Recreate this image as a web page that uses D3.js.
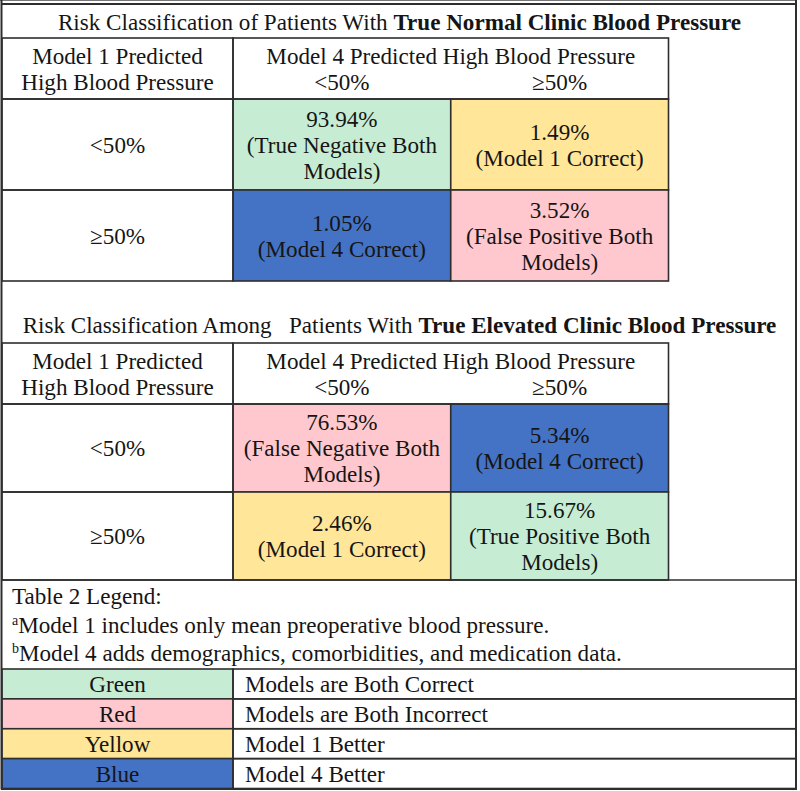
<!DOCTYPE html>
<html><head><meta charset="utf-8">
<script src="https://cdn.jsdelivr.net/npm/d3@7"></script>
<style>
body{margin:0;background:#fff}
svg{display:block}
text{font-family:"Liberation Serif","Times New Roman",serif;fill:#151515;white-space:pre}
</style>
</head><body><script>
// ---------- data ----------
const rowCategories = ["<50%", "≥50%"];
const colCategories = ["<50%", "≥50%"];
const rowHeader = ["Model 1 Predicted", "High Blood Pressure"];
const colHeader = "Model 4 Predicted High Blood Pressure";

const normalTitle = ["Risk Classification of Patients With ", "True Normal Clinic Blood Pressure"];
const normalValues = [93.94, 1.49, 1.05, 3.52];            // row-major: [<50%,<50%], [<50%,≥50%], [≥50%,<50%], [≥50%,≥50%]
const normalNotes = [["(True Negative Both", "Models)"], ["(Model 1 Correct)"], ["(Model 4 Correct)"], ["(False Positive Both", "Models)"]];
const normalColours = ["Green", "Yellow", "Blue", "Red"];

const elevatedTitle = ["Risk Classification Among   Patients With ", "True Elevated Clinic Blood Pressure"];
const elevatedValues = [76.53, 5.34, 2.46, 15.67];
const elevatedNotes = [["(False Negative Both", "Models)"], ["(Model 4 Correct)"], ["(Model 1 Correct)"], ["(True Positive Both", "Models)"]];
const elevatedColours = ["Red", "Blue", "Yellow", "Green"];

const legendHeading = "Table 2 Legend:";
const footnoteMarks = ["a", "b"];
const footnotes = ["Model 1 includes only mean preoperative blood pressure.", "Model 4 adds demographics, comorbidities, and medication data."];
const legendNames = ["Green", "Red", "Yellow", "Blue"];
const legendMeanings = ["Models are Both Correct", "Models are Both Incorrect", "Model 1 Better", "Model 4 Better"];
const legendFills = ["#c6edd3", "#ffc8ce", "#ffe699", "#4472c4"];

// ---------- layout ----------
const W = 800, H = 791;
const FS = 23.1, LH = 26, BASE = 8;
const lineCol = "#2e2e2e";
const fill = d3.scaleOrdinal(legendNames, legendFills);

const svg = d3.select("body").append("svg").attr("width", W).attr("height", H);

const labelX = [2, 233];
const x = d3.scaleBand(colCategories, [233, 668.5]);
const legendRow = d3.scaleBand(legendNames, [669, 788.5]);

function multiline(g, lines, cx, cy, opts = {}) {
  const n = lines.length;
  const t = g.append("text").attr("text-anchor", opts.anchor || "middle").style("font-size", FS + "px");
  lines.forEach((l, i) => {
    t.append("tspan").attr("x", cx).attr("y", cy + BASE + (i - (n - 1) / 2) * LH).text(l);
  });
  return t;
}

function drawTable(top, titleBaseline, rows, values, notes, colours, title) {
  const g = svg.append("g");
  const headerBottom = rows[0];
  const y = d3.scaleBand(rowCategories, rows);

  // title
  const tt = g.append("text").attr("x", 399.5).attr("y", titleBaseline).attr("text-anchor", "middle").style("font-size", FS + "px");
  tt.append("tspan").text(title[0]);
  tt.append("tspan").style("font-weight", "bold").text(title[1]);

  // cells
  const cells = values.map((v, i) => ({
    v, note: notes[i], colour: colours[i],
    r: rowCategories[Math.floor(i / 2)], c: colCategories[i % 2]
  }));
  g.selectAll("rect.cell").data(cells).join("rect").attr("class", "cell")
    .attr("x", d => x(d.c)).attr("y", d => y(d.r))
    .attr("width", x.bandwidth()).attr("height", y.bandwidth())
    .attr("fill", d => fill(d.colour)).attr("stroke", lineCol).attr("stroke-width", 1.6);
  cells.forEach(d => {
    multiline(g, [d3.format(".2f")(d.v) + "%"].concat(d.note), x(d.c) + x.bandwidth() / 2, y(d.r) + y.bandwidth() / 2);
  });

  // row label cells
  rowCategories.forEach(r => {
    g.append("rect").attr("x", labelX[0]).attr("y", y(r)).attr("width", labelX[1] - labelX[0]).attr("height", y.bandwidth())
      .attr("fill", "none").attr("stroke", lineCol).attr("stroke-width", 1.6);
    multiline(g, [r], (labelX[0] + labelX[1]) / 2, y(r) + y.bandwidth() / 2);
  });

  // header
  g.append("rect").attr("x", labelX[0]).attr("y", top).attr("width", labelX[1] - labelX[0]).attr("height", headerBottom - top)
    .attr("fill", "none").attr("stroke", lineCol).attr("stroke-width", 1.6);
  g.append("rect").attr("x", x.range()[0]).attr("y", top).attr("width", x.range()[1] - x.range()[0]).attr("height", headerBottom - top)
    .attr("fill", "none").attr("stroke", lineCol).attr("stroke-width", 1.6);
  multiline(g, rowHeader, (labelX[0] + labelX[1]) / 2, (top + headerBottom) / 2);
  const hc = (top + headerBottom) / 2;
  g.append("text").attr("x", (x.range()[0] + x.range()[1]) / 2).attr("y", hc + BASE - LH / 2)
    .attr("text-anchor", "middle").style("font-size", FS + "px").text(colHeader);
  colCategories.forEach(c => {
    g.append("text").attr("x", x(c) + x.bandwidth() / 2).attr("y", hc + BASE + LH / 2)
      .attr("text-anchor", "middle").style("font-size", FS + "px").text(c);
  });
}

drawTable(38, 30, [99, 281], normalValues, normalNotes, normalColours, normalTitle);
drawTable(343, 333, [404, 580], elevatedValues, elevatedNotes, elevatedColours, elevatedTitle);

// legend text
svg.append("text").attr("x", 12).attr("y", 604).style("font-size", FS + "px").text(legendHeading);
footnotes.forEach((f, i) => {
  const t = svg.append("text").attr("x", 12).attr("y", 633 + i * 27.5).style("font-size", FS + "px");
  t.append("tspan").style("font-size", "14px").attr("dy", -8).text(footnoteMarks[i]);
  t.append("tspan").attr("dy", 8).text(footnotes[i]);
});

// legend table
const lg = svg.append("g");
lg.selectAll("rect.sw").data(legendNames).join("rect").attr("class", "sw")
  .attr("x", labelX[0]).attr("y", d => legendRow(d)).attr("width", labelX[1] - labelX[0]).attr("height", legendRow.bandwidth())
  .attr("fill", d => fill(d)).attr("stroke", lineCol).attr("stroke-width", 1.6);
lg.selectAll("rect.mn").data(legendNames).join("rect").attr("class", "mn")
  .attr("x", labelX[1]).attr("y", d => legendRow(d)).attr("width", 796 - labelX[1]).attr("height", legendRow.bandwidth())
  .attr("fill", "none").attr("stroke", lineCol).attr("stroke-width", 1.6);
lg.selectAll("text.nm").data(legendNames).join("text").attr("class", "nm")
  .attr("x", (labelX[0] + labelX[1]) / 2).attr("y", d => legendRow(d) + legendRow.bandwidth() / 2 + BASE)
  .attr("text-anchor", "middle").style("font-size", FS + "px").text(d => d);
lg.selectAll("text.mg").data(legendMeanings).join("text").attr("class", "mg")
  .attr("x", 245).attr("y", (d, i) => legendRow(legendNames[i]) + legendRow.bandwidth() / 2 + BASE)
  .style("font-size", FS + "px").text(d => d);

// outer frame and separators
const frame = svg.append("g").attr("stroke", lineCol).attr("fill", "none");
frame.append("line").attr("x1", 0).attr("x2", 797).attr("y1", 0.5).attr("y2", 0.5).attr("stroke", "#777").attr("stroke-width", 1);
frame.append("line").attr("x1", 1).attr("x2", 797).attr("y1", 4).attr("y2", 4).attr("stroke-width", 2);
frame.append("line").attr("x1", 1.5).attr("x2", 1.5).attr("y1", 0).attr("y2", 789.5).attr("stroke-width", 2);
frame.append("line").attr("x1", 796).attr("x2", 796).attr("y1", 0).attr("y2", 789.5).attr("stroke-width", 2);
frame.append("line").attr("x1", 1).attr("x2", 797).attr("y1", 789).attr("y2", 789).attr("stroke-width", 2);
frame.append("line").attr("x1", 2).attr("x2", 796).attr("y1", 580).attr("y2", 580).attr("stroke-width", 1.6);
</script></body></html>
